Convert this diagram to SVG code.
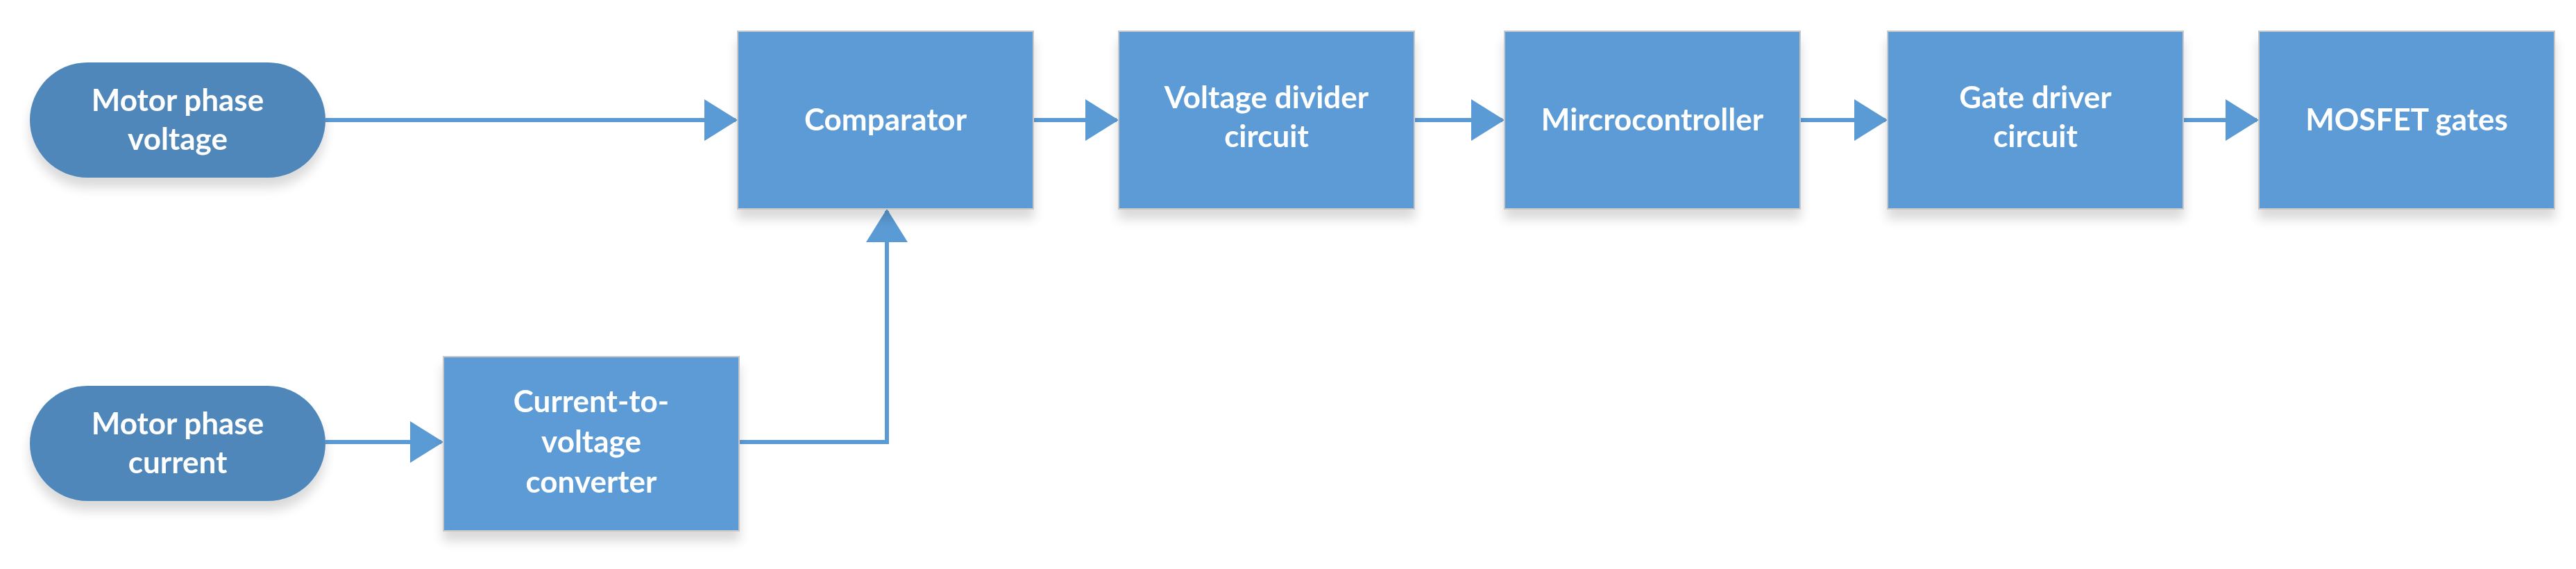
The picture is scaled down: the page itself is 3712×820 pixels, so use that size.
<svg xmlns="http://www.w3.org/2000/svg" width="3712" height="820" viewBox="0 0 3712 820">
<style>
.box{fill:#5B9BD5;stroke:#c8c8c8;stroke-width:2}
.pill{fill:#4F87BA}
.t{font-family:Lato,"Open Sans",sans-serif;font-weight:bold;font-size:44px;fill:#fff;text-anchor:middle}
.c{stroke:#5B9BD5;stroke-width:6;fill:none}
</style>
<defs>
<marker id="ah" markerWidth="8" markerHeight="10" refX="7.5" refY="5" orient="auto" markerUnits="strokeWidth"><path d="M0,0 L8,5 L0,10 Z" fill="#5B9BD5"/></marker>
<filter id="sh" x="-10%" y="-10%" width="120%" height="130%"><feGaussianBlur in="SourceAlpha" stdDeviation="8"/><feOffset dy="14"/><feComponentTransfer><feFuncA type="linear" slope="0.15"/></feComponentTransfer><feMerge><feMergeNode/><feMergeNode in="SourceGraphic"/></feMerge></filter>
</defs>
<rect width="3712" height="820" fill="#fff"/>
<g id="connectors">
<path class="c" d="M469,173 H1060" marker-end="url(#ah)"/>
<path class="c" d="M469,637 H636" marker-end="url(#ah)"/>
<path class="c" d="M1065,637 H1278 V304" marker-end="url(#ah)"/>
<path class="c" d="M1489,173 H1609" marker-end="url(#ah)"/>
<path class="c" d="M2038,173 H2165" marker-end="url(#ah)"/>
<path class="c" d="M2594,173 H2717" marker-end="url(#ah)"/>
<path class="c" d="M3146,173 H3252" marker-end="url(#ah)"/>
</g>
<g id="n1" filter="url(#sh)"><rect class="pill" x="43" y="90" width="426" height="166" rx="83"/><text class="t" x="256" y="160">Motor phase</text><text class="t" x="256" y="216">voltage</text></g>
<g id="n2" filter="url(#sh)"><rect class="pill" x="43" y="556" width="426" height="166" rx="83"/><text class="t" x="256" y="626">Motor phase</text><text class="t" x="256" y="682">current</text></g>
<g id="n3" filter="url(#sh)"><rect class="box" x="639" y="514" width="426" height="251"/><text class="t" x="852" y="594">Current-to-</text><text class="t" x="852" y="652">voltage</text><text class="t" x="852" y="710">converter</text></g>
<g id="n4" filter="url(#sh)"><rect class="box" x="1063" y="45" width="426" height="256"/><text class="t" x="1276" y="188">Comparator</text></g>
<g id="n5" filter="url(#sh)"><rect class="box" x="1612" y="45" width="426" height="256"/><text class="t" x="1825" y="156">Voltage divider</text><text class="t" x="1825" y="212">circuit</text></g>
<g id="n6" filter="url(#sh)"><rect class="box" x="2168" y="45" width="426" height="256"/><text class="t" x="2381" y="188">Mircrocontroller</text></g>
<g id="n7" filter="url(#sh)"><rect class="box" x="2720" y="45" width="426" height="256"/><text class="t" x="2933" y="156">Gate driver</text><text class="t" x="2933" y="212">circuit</text></g>
<g id="n8" filter="url(#sh)"><rect class="box" x="3255" y="45" width="426" height="256"/><text class="t" x="3468" y="188">MOSFET gates</text></g>
</svg>
